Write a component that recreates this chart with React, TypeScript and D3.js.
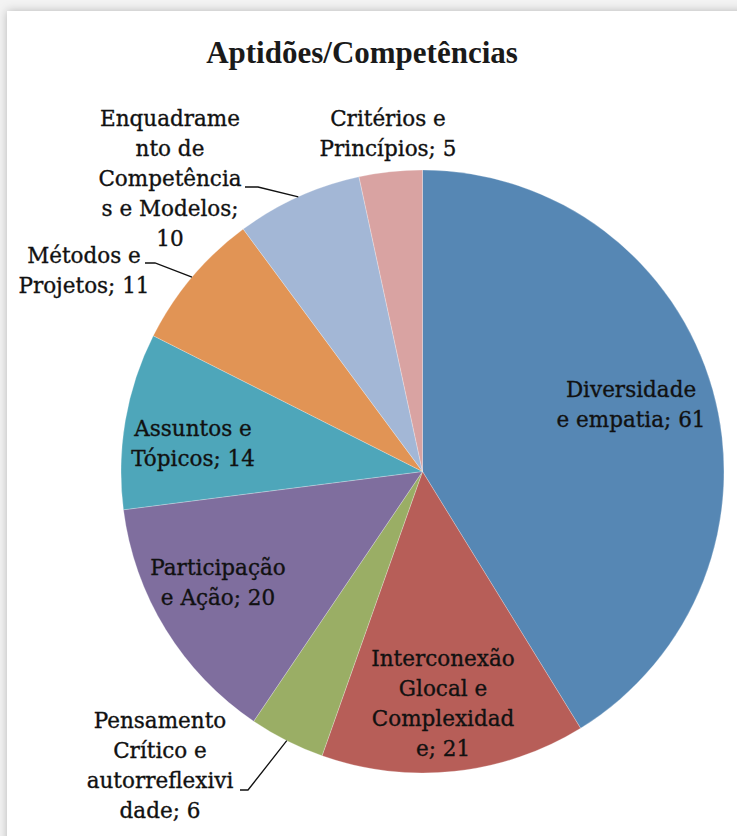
import React from "react";
import * as d3 from "d3";

const categories = [
  "Diversidade e empatia",
  "Interconexão Glocal e Complexidade",
  "Pensamento Crítico e autorreflexividade",
  "Participação e Ação",
  "Assuntos e Tópicos",
  "Métodos e Projetos",
  "Enquadramento de Competências e Modelos",
  "Critérios e Princípios",
];
const values = [61, 21, 6, 20, 14, 11, 10, 5];
const colors = ["#5687b4", "#b75e58", "#9aae65", "#7f6e9e", "#4ea6ba", "#e19455", "#a3b7d6", "#d9a3a2"];
const labelLines = [
  ["Diversidade", "e empatia; 61"],
  ["Interconexão", "Glocal e", "Complexidad", "e; 21"],
  ["Pensamento", "Crítico e", "autorreflexivi", "dade; 6"],
  ["Participação", "e Ação; 20"],
  ["Assuntos e", "Tópicos; 14"],
  ["Métodos e", "Projetos; 11"],
  ["Enquadrame", "nto de", "Competência", "s e Modelos;", "10"],
  ["Critérios e", "Princípios; 5"],
];
const title = "Aptidões/Competências";

// layout (not data)
const W = 737, H = 836;
const cx = 422.5, cy = 471.5, R = 301.5;
const LINE_H = 30;
const labelPos: { x: number; y: number; leader?: [number, number, number] }[] = [
  { x: 631, y: 397 },
  { x: 443, y: 666 },
  { x: 160, y: 728, leader: [240, 248, 790] },
  { x: 218, y: 575 },
  { x: 193, y: 436 },
  { x: 84, y: 263, leader: [145, 155, 263] },
  { x: 170, y: 125.5, leader: [245, 258, 187] },
  { x: 388, y: 126 },
];

export default function App() {
  const data = categories.map((c, i) => ({ c, v: values[i], i }));
  const pie = d3.pie<any>().sort(null).value((d) => d.v).startAngle(0).endAngle(2 * Math.PI);
  const arcs = pie(data);
  const arc = d3.arc<any>().innerRadius(0).outerRadius(R);

  return (
    <svg width={W} height={H} style={{ position: "absolute", left: 0, top: 0 }}>
      <defs>
        <filter id="sh" x="-10%" y="-10%" width="120%" height="120%">
          <feDropShadow dx="0" dy="0" stdDeviation="5" floodColor="#000" floodOpacity="0.25" />
        </filter>
      </defs>
      <rect x={0} y={0} width={W} height={H} fill="#f3f3f3" />
      <rect x={7} y={11} width={W + 50} height={H + 50} fill="#fff" filter="url(#sh)" />
      <text
        x={362}
        y={63}
        textAnchor="middle"
        fontFamily="'Liberation Serif', serif"
        fontWeight="bold"
        fontSize={31}
        fill="#1a1a1a"
      >
        {title}
      </text>
      <g transform={`translate(${cx},${cy})`}>
        {arcs.map((a, i) => (
          <path key={i} d={arc(a) as string} fill={colors[i]} stroke="#ffffff" strokeOpacity={0.35} strokeWidth={0.7} />
        ))}
      </g>
      {arcs.map((a, i) => {
        const p = labelPos[i];
        if (!p.leader) return null;
        const mid = (a.startAngle + a.endAngle) / 2;
        const ex = cx + R * Math.sin(mid);
        const ey = cy - R * Math.cos(mid);
        const [x0, x1, y0] = p.leader;
        return (
          <polyline
            key={"l" + i}
            points={`${x0},${y0} ${x1},${y0} ${ex},${ey}`}
            fill="none"
            stroke="#111"
            strokeWidth={1.3}
          />
        );
      })}
      {labelLines.map((lines, i) => (
        <text
          key={"t" + i}
          textAnchor="middle"
          fontFamily="'DejaVu Serif', serif"
          fontSize={21.5}
          fill="#111"
          stroke="#111"
          strokeWidth={0.35}
        >
          {lines.map((ln, j) => (
            <tspan key={j} x={labelPos[i].x} y={labelPos[i].y + j * LINE_H}>
              {ln}
            </tspan>
          ))}
        </text>
      ))}
    </svg>
  );
}
